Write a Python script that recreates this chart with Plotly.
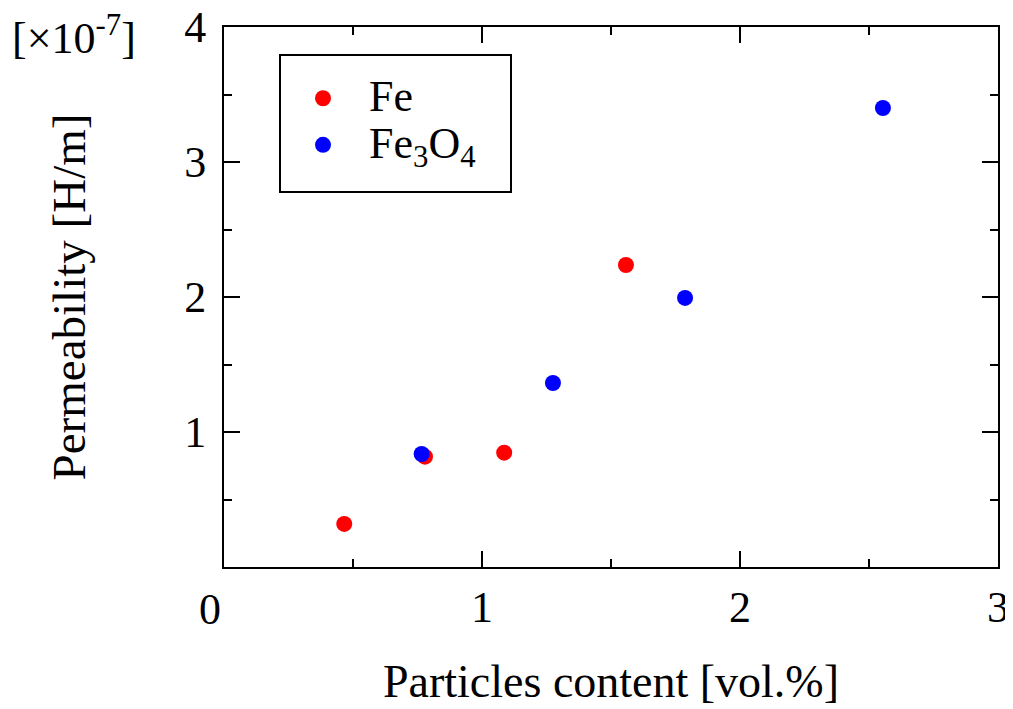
import plotly.graph_objects as go

fe_x = [0.466, 0.779, 1.086, 1.558]
fe_y = [0.319, 0.817, 0.847, 2.237]
fe3o4_x = [0.766, 1.275, 1.787, 2.554]
fe3o4_y = [0.837, 1.363, 1.993, 3.40]

x_ticks = [1, 2, 3]
y_ticks = [1, 2, 3, 4]

FONT = "Liberation Serif"
FS = 44


def big(s):
    return '<span style="font-size:44px">' + s + '</span>'


fig = go.Figure()
fig.add_trace(go.Scatter(x=fe_x, y=fe_y, mode="markers", name=big("Fe"),
                         marker=dict(color="#ff0000", size=16)))
fig.add_trace(go.Scatter(x=fe3o4_x, y=fe3o4_y, mode="markers",
                         name=big("Fe<sub>3</sub>O<sub>4</sub>"),
                         marker=dict(color="#0000ff", size=16)))

axis_common = dict(showline=True, linecolor="black", linewidth=2, mirror="allticks",
                   ticks="inside", ticklen=16, tickwidth=2, tickcolor="black",
                   showgrid=False, zeroline=False, ticklabeloverflow="allow",
                   tickfont=dict(family=FONT, size=FS, color="black"))

fig.update_xaxes(range=[0, 3], tickvals=x_ticks, ticktext=[str(v) for v in x_ticks],
                 minor=dict(ticks="inside", ticklen=8, tickwidth=2, tickcolor="black",
                            dtick=0.5, tick0=0, showgrid=False),
                 title=dict(text="Particles content [vol.%]",
                            font=dict(family=FONT, size=46, color="black"), standoff=34),
                 **axis_common)
fig.update_yaxes(range=[0, 4], tickvals=y_ticks, ticktext=[str(v) for v in y_ticks],
                 ticklabelstandoff=7,
                 minor=dict(ticks="inside", ticklen=8, tickwidth=2, tickcolor="black",
                            dtick=0.5, tick0=0, showgrid=False),
                 title=dict(text="Permeability [H/m]",
                            font=dict(family=FONT, size=47, color="black"), standoff=84),
                 **axis_common)

fig.add_annotation(text="0", xref="x", yref="paper", x=0, y=0, xshift=-14, yshift=-16,
                   yanchor="top", showarrow=False,
                   font=dict(family=FONT, size=FS, color="black"))
fig.add_annotation(text="[×10<sup>-7</sup>]", xref="paper", yref="paper",
                   x=(10 - 224) / 774, y=(567 - 35) / 540, xanchor="left", yanchor="middle",
                   showarrow=False, font=dict(family=FONT, size=FS, color="black"))

# legend frame
fig.add_shape(type="rect", xref="paper", yref="paper",
              x0=(280 - 224) / 774, x1=(511 - 224) / 774,
              y0=(567 - 192) / 540, y1=(567 - 55) / 540,
              line=dict(color="black", width=2), fillcolor="rgba(0,0,0,0)")

fig.update_layout(
    width=1013, height=709,
    margin=dict(l=216, r=23, t=19, b=150, autoexpand=False),
    plot_bgcolor="white", paper_bgcolor="white",
    showlegend=True,
    legend=dict(x=(277 - 224) / 774, y=(567 - 70) / 540, xanchor="left", yanchor="top",
                borderwidth=0, bgcolor="rgba(0,0,0,0)",
                font=dict(family=FONT, size=33.5, color="black"),
                itemwidth=82, tracegroupgap=0),
    font=dict(family=FONT, color="black"),
)

fig.write_html("out.html")
